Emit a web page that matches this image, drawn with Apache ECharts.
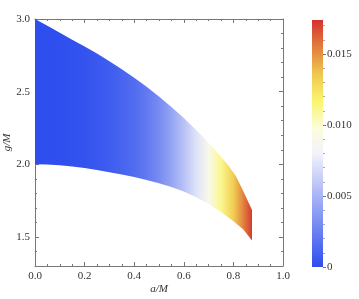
<!DOCTYPE html>
<html><head><meta charset="utf-8">
<script src="https://cdn.jsdelivr.net/npm/echarts@6/dist/echarts.min.js"></script>
<style>html,body{margin:0;padding:0;background:#fff}#c{width:359px;height:299px}</style>
</head><body><div id="c"></div>
<script>
// Upper boundary of the allowed region (a/M, g/M)
var upperA = [0, 0.05, 0.1, 0.15, 0.2, 0.25, 0.3, 0.35, 0.4, 0.45, 0.5, 0.55, 0.6, 0.65, 0.7, 0.75, 0.78, 0.81, 0.84, 0.875];
var upperG = [3.0, 2.953, 2.905, 2.857, 2.81, 2.762, 2.71, 2.655, 2.596, 2.533, 2.466, 2.395, 2.318, 2.236, 2.148, 2.052, 1.992, 1.92, 1.815, 1.685];
// Lower boundary
var lowerA = [0, 0.05, 0.1, 0.15, 0.2, 0.25, 0.3, 0.35, 0.4, 0.45, 0.5, 0.55, 0.6, 0.65, 0.7, 0.75, 0.8, 0.84, 0.875];
var lowerG = [2.0, 1.998, 1.993, 1.984, 1.974, 1.96, 1.945, 1.929, 1.912, 1.892, 1.87, 1.844, 1.812, 1.773, 1.727, 1.672, 1.608, 1.551, 1.475];
// Colour value along a/M
var valueA = [0, 0.1, 0.2, 0.3, 0.4, 0.45, 0.5, 0.55, 0.6, 0.65, 0.7, 0.75, 0.8, 0.84, 0.875];
var valueZ = [0, 0.0001, 0.0003, 0.0007, 0.0015, 0.0021, 0.003, 0.0042, 0.0056, 0.0072, 0.009, 0.0111, 0.0133, 0.0154, 0.0172];
// Colour bar range and ticks
var cbMin = 0, cbMax = 0.0174;
var cbTicks = [0, 0.005, 0.01, 0.015];
var cbMinor = [0.001,0.002,0.003,0.004,0.006,0.007,0.008,0.009,0.011,0.012,0.013,0.014,0.016,0.017];
var yTicks = [1.5, 2.0, 2.5, 3.0];
var yMinor = [1.3,1.4,1.6,1.7,1.8,1.9,2.1,2.2,2.3,2.4,2.6,2.7,2.8,2.9];

// TemperatureMap-like colour scale (style)
var cmapStops = [
  [0.0, [45,77,238]],
  [0.46, [242,243,250]],
  [0.56, [252,252,222]],
  [0.67, [250,245,110]],
  [0.78, [240,200,80]],
  [0.87, [228,140,64]],
  [1.0, [212,50,45]]
];
function cmap(z){
  var t = (z-cbMin)/(cbMax-cbMin); t = Math.max(0, Math.min(1, t));
  for (var i=1;i<cmapStops.length;i++){
    if (t <= cmapStops[i][0]){
      var a = cmapStops[i-1], b = cmapStops[i];
      var f = (t-a[0])/(b[0]-a[0]);
      var c = a[1].map(function(v,k){return Math.round(v+(b[1][k]-v)*f);});
      return 'rgb('+c.join(',')+')';
    }
  }
  return 'rgb('+cmapStops[cmapStops.length-1][1].join(',')+')';
}

var FONT = 'Liberation Serif';
var AX = '#777';
var LBL = '#333';
function frameX(pos, labels){
  return {gridIndex:0, type:'value', min:0, max:1, interval:0.2, position:pos,
    axisLine:{show:true, onZero:false, lineStyle:{color:AX, width:1}},
    axisTick:{show:true, inside:true, length:4, lineStyle:{color:AX}},
    minorTick:{show:true, splitNumber:4, length:2, lineStyle:{color:AX}},
    splitLine:{show:false}, minorSplitLine:{show:false},
    axisLabel:{show:labels, formatter:function(v){return v.toFixed(1);}, margin:5, color:LBL, fontFamily:FONT, fontSize:11},
    name: labels ? 'a/M' : '', nameLocation:'middle', nameGap:18, nameMoveOverlap:false,
    nameTextStyle:{fontFamily:FONT, fontStyle:'italic', fontSize:11, color:LBL}
  };
}
function frameY(pos, labels, major){
  return {gridIndex:0, type:'value', min:1.3, max:3.0, position:pos,
    axisLine:{show:major, onZero:false, lineStyle:{color:AX, width:1}},
    axisTick:{show:true, inside:true, length: major?4:2, customValues: major?yTicks:yMinor, lineStyle:{color:AX}},
    splitLine:{show:false},
    axisLabel:{show:labels, customValues:yTicks, formatter:function(v){return v.toFixed(1);}, margin:5, color:LBL, fontFamily:FONT, fontSize:11},
    name: labels ? 'g/M' : '', nameLocation:'middle', nameGap:22, nameRotate:90, nameMoveOverlap:false,
    nameTextStyle:{fontFamily:FONT, fontStyle:'italic', fontSize:11, color:LBL}
  };
}

var chart = echarts.init(document.getElementById('c'), null, {renderer:'canvas'});
chart.setOption({
  animation:false,
  backgroundColor:'#fff',
  grid:[
    {left:35, right:76, top:19, bottom:33, containLabel:false, outerBoundsMode:'none'},
    {left:312, width:11, top:20, bottom:32, containLabel:false, outerBoundsMode:'none'}
  ],
  xAxis:[
    frameX('bottom', true),
    frameX('top', false),
    {gridIndex:1, type:'value', min:0, max:1, show:false}
  ],
  yAxis:[
    frameY('left', true, true),
    frameY('left', false, false),
    frameY('right', false, true),
    frameY('right', false, false),
    {gridIndex:1, type:'value', min:cbMin, max:cbMax, position:'right',
      axisLine:{show:false, onZero:false},
      axisTick:{show:true, inside:false, length:3, customValues:cbTicks, lineStyle:{color:AX}},
      splitLine:{show:false},
      axisLabel:{show:true, customValues:cbTicks, margin:4, color:LBL, fontFamily:FONT, fontSize:11,
        formatter:function(v){return v===0?'0':v.toFixed(3);}}
    },
    {gridIndex:1, type:'value', min:cbMin, max:cbMax, position:'right',
      axisLine:{show:false, onZero:false},
      axisTick:{show:true, inside:false, length:2, customValues:cbMinor, lineStyle:{color:'#aaa'}},
      splitLine:{show:false}, axisLabel:{show:false}
    }
  ],
  series:[
    {type:'custom', xAxisIndex:0, yAxisIndex:0, clip:false, z:3, data:[[0,2]],
      renderItem:function(params, api){
        var pts = [];
        for (var i=0;i<upperA.length;i++) pts.push(api.coord([upperA[i], upperG[i]]));
        for (var j=lowerA.length-1;j>=0;j--) pts.push(api.coord([lowerA[j], lowerG[j]]));
        var a0 = valueA[0], a1 = valueA[valueA.length-1];
        var x0 = api.coord([a0, 2])[0], x1 = api.coord([a1, 2])[0];
        var stops = valueA.map(function(a,k){return {offset:(a-a0)/(a1-a0), color:cmap(valueZ[k])};});
        return {type:'polygon', shape:{points:pts},
          style:{fill:{type:'linear', x:x0, y:0, x2:x1, y2:0, global:true, colorStops:stops}, stroke:null}};
      }
    },
    {type:'custom', xAxisIndex:2, yAxisIndex:4, clip:false, data:[[0,0]],
      renderItem:function(params, api){
        var p0 = api.coord([0, cbMax]), p1 = api.coord([1, cbMin]);
        var stops = cmapStops.map(function(s){return {offset:1-s[0], color:'rgb('+s[1].join(',')+')'};}).reverse();
        return {type:'rect', shape:{x:p0[0], y:p0[1], width:p1[0]-p0[0], height:p1[1]-p0[1]},
          style:{fill:{type:'linear', x:0, y:p0[1], x2:0, y2:p1[1], global:true, colorStops:stops}}};
      }
    }
  ]
});
</script></body></html>
